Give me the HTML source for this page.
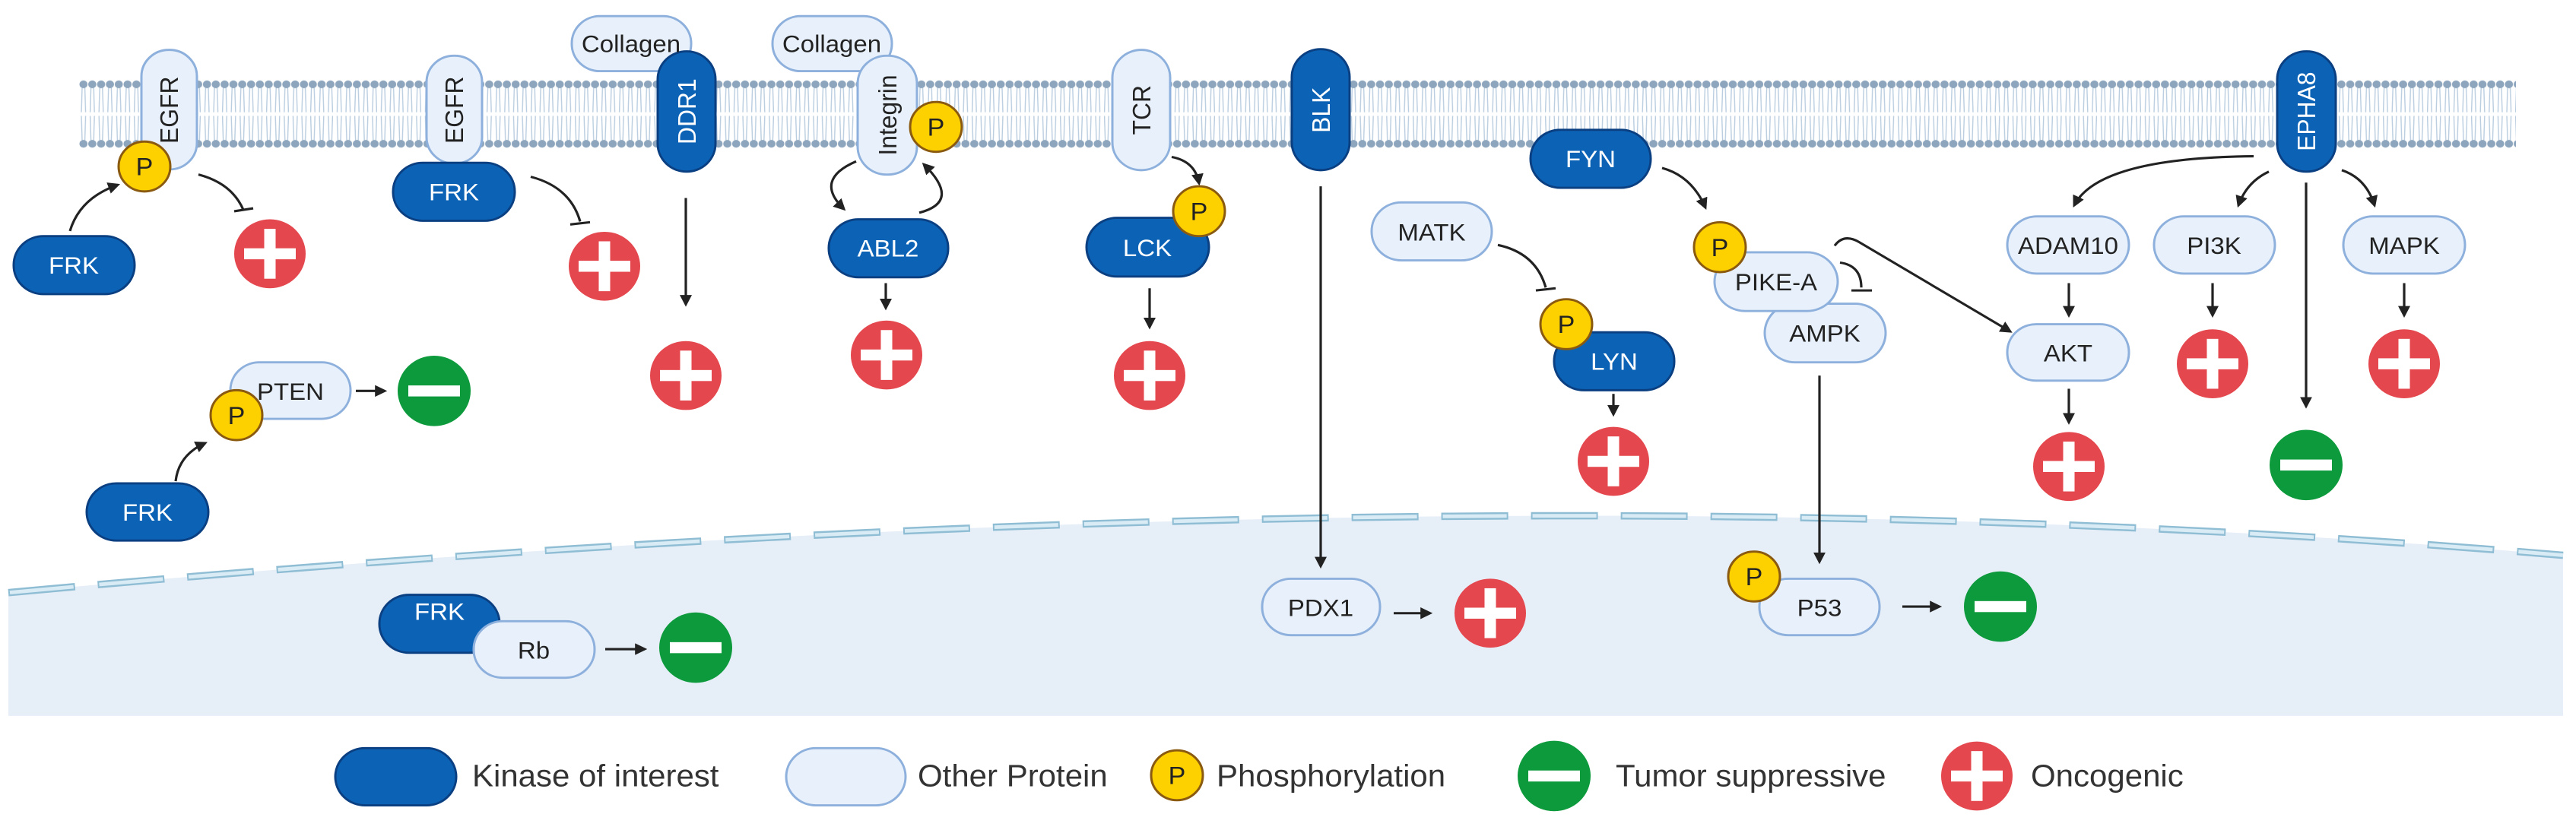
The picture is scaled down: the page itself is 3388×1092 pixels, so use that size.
<!DOCTYPE html>
<html><head><meta charset="utf-8"><style>
html,body{margin:0;padding:0;background:#fff;}
svg{display:block;}
text{font-family:"Liberation Sans",sans-serif;}
</style></head><body>
<svg width="3388" height="1092" viewBox="0 0 3388 1092" xmlns="http://www.w3.org/2000/svg">
<defs>
<marker id="ah" viewBox="0 0 10 10" refX="8" refY="5" markerWidth="5" markerHeight="5" orient="auto-start-reverse" markerUnits="strokeWidth">
<path d="M0,0 L10,5 L0,10 z" fill="#222"/></marker>
<pattern id="mem" x="104" y="105" width="11.6" height="101" patternUnits="userSpaceOnUse">
<line x1="4" y1="15" x2="3" y2="48" stroke="#b9cde0" stroke-width="1.4"/>
<line x1="7.6" y1="15" x2="8.6" y2="48" stroke="#b9cde0" stroke-width="1.4"/>
<line x1="3" y1="53" x2="4" y2="86" stroke="#b9cde0" stroke-width="1.4"/>
<line x1="8.6" y1="53" x2="7.6" y2="86" stroke="#b9cde0" stroke-width="1.4"/>
<circle cx="5.8" cy="10" r="5.3" fill="#8ea6bd"/>
<circle cx="5.8" cy="91" r="5.3" fill="#8ea6bd"/>
</pattern>
<g id="plus"><circle r="47" fill="#e4484e"/><rect x="-34" y="-7.5" width="68" height="15" fill="#fff"/><rect x="-7.5" y="-34" width="15" height="68" fill="#fff"/></g>
<g id="minus"><circle r="48" fill="#0d9a3c"/><rect x="-34" y="-7.5" width="68" height="15" fill="#fff"/></g>
<g id="P"><circle r="34" fill="#fdd000" stroke="#8a5a10" stroke-width="3"/><text y="12" text-anchor="middle" font-size="34" fill="#222">P</text></g>
</defs>
<g transform="scale(1 0.965)">
<!-- membrane -->
<rect x="104" y="105" width="3205" height="101" fill="url(#mem)"/>

<!-- nucleus -->
<path d="M11 808 Q1900 628 3371 757 L3371 976 L11 976 Z" fill="#e6eef8"/>
<path d="M11 808 Q1900 628 3371 757" fill="none" stroke="#8fbdd4" stroke-width="10" stroke-dasharray="88 30"/>
<path d="M11 808 Q1900 628 3371 757" fill="none" stroke="#d9ecf6" stroke-width="5" stroke-dasharray="84 34" stroke-dashoffset="-2"/>

<g fill="none" stroke="#222" stroke-width="3.2">
<path d="M92 315 Q105 270 155 252" marker-end="url(#ah)"/>
<path d="M261 238 Q305 250 320 286"/><line x1="308" y1="288" x2="333" y2="284"/>
<path d="M698 241 Q750 255 763 302"/><line x1="750" y1="306" x2="776" y2="303"/>
<line x1="902" y1="270" x2="902" y2="415" marker-end="url(#ah)"/>
<path d="M231 656 Q235 620 270 604" marker-end="url(#ah)"/>
<line x1="468" y1="533" x2="506" y2="533" marker-end="url(#ah)"/>
<line x1="796" y1="885" x2="848" y2="885" marker-end="url(#ah)"/>
<path d="M1126 220 Q1070 245 1110 285" marker-end="url(#ah)"/>
<path d="M1209 290 Q1265 275 1215 224" marker-end="url(#ah)"/>
<line x1="1165" y1="386" x2="1165" y2="420" marker-end="url(#ah)"/>
<path d="M1541 214 Q1572 220 1577 250" marker-end="url(#ah)"/>
<line x1="1512" y1="393" x2="1512" y2="446" marker-end="url(#ah)"/>
<line x1="1737" y1="254" x2="1737" y2="772" marker-end="url(#ah)"/>
<line x1="1833" y1="836" x2="1881" y2="836" marker-end="url(#ah)"/>
<path d="M2186 229 Q2225 240 2243 283" marker-end="url(#ah)"/>
<path d="M1970 334 Q2020 345 2033 392"/><line x1="2020" y1="396" x2="2046" y2="393"/>
<line x1="2122" y1="537" x2="2122" y2="565" marker-end="url(#ah)"/>
<path d="M2413 335 Q2425 318 2445 330 L2644 452" marker-end="url(#ah)"/>
<path d="M2420 358 Q2448 362 2448 392"/><line x1="2435" y1="396" x2="2462" y2="396"/>
<line x1="2393" y1="512" x2="2393" y2="766" marker-end="url(#ah)"/>
<line x1="2502" y1="827" x2="2551" y2="827" marker-end="url(#ah)"/>
<path d="M2964 213 Q2760 215 2728 280" marker-end="url(#ah)"/>
<path d="M2984 234 Q2955 248 2944 280" marker-end="url(#ah)"/>
<path d="M3080 232 Q3112 243 3123 280" marker-end="url(#ah)"/>
<line x1="3033" y1="249" x2="3033" y2="554" marker-end="url(#ah)"/>
<line x1="2721" y1="386" x2="2721" y2="430" marker-end="url(#ah)"/>
<line x1="2721" y1="530" x2="2721" y2="576" marker-end="url(#ah)"/>
<line x1="2910" y1="386" x2="2910" y2="430" marker-end="url(#ah)"/>
<line x1="3162" y1="386" x2="3162" y2="430" marker-end="url(#ah)"/>
</g>

<g fill="#e8f1fb" stroke="#8eb0dc" stroke-width="3">
<rect x="186" y="68" width="73" height="163" rx="36"/>
<rect x="561" y="76" width="73" height="147" rx="36"/>
<rect x="752" y="22" width="157" height="75" rx="37"/>
<rect x="1016" y="22" width="157" height="75" rx="37"/>
<rect x="1128" y="76" width="78" height="162" rx="38"/>
<rect x="1463" y="68" width="76" height="164" rx="38"/>
<rect x="303" y="494" width="158" height="77" rx="38"/>
<rect x="1660" y="789" width="155" height="77" rx="38"/>
<rect x="1804" y="276" width="158" height="79" rx="39"/>
<rect x="2321" y="414" width="159" height="80" rx="40"/>
<rect x="2314" y="789" width="158" height="77" rx="38"/>
<rect x="2640" y="295" width="160" height="78" rx="39"/>
<rect x="2640" y="442" width="160" height="77" rx="38"/>
<rect x="2833" y="295" width="159" height="78" rx="39"/>
<rect x="3082" y="295" width="160" height="78" rx="39"/>
<rect x="1034" y="1020" width="157" height="78" rx="39"/>
</g>
<g fill="#0c63b6" stroke="#0a3f82" stroke-width="3">
<rect x="18" y="322" width="159" height="79" rx="39"/>
<rect x="517" y="222" width="160" height="79" rx="39"/>
<rect x="865" y="70" width="76" height="164" rx="38"/>
<rect x="1090" y="299" width="157" height="79" rx="39"/>
<rect x="1429" y="297" width="161" height="80" rx="40"/>
<rect x="1699" y="67" width="76" height="165" rx="38"/>
<rect x="2013" y="177" width="158" height="79" rx="39"/>
<rect x="2044" y="453" width="158" height="79" rx="39"/>
<rect x="2995" y="70" width="77" height="164" rx="38"/>
<rect x="114" y="659" width="160" height="78" rx="39"/>
<rect x="499" y="811" width="158" height="79" rx="39"/>
<rect x="441" y="1020" width="159" height="78" rx="39"/>
</g>
<rect x="623" y="847" width="159" height="77" rx="38" fill="#e8f1fb" stroke="#8eb0dc" stroke-width="3"/>
<rect x="2255" y="344" width="162" height="80" rx="40" fill="#e8f1fb" stroke="#8eb0dc" stroke-width="3"/>

<g font-size="33" fill="#222" text-anchor="middle">
<text x="830" y="71">Collagen</text>
<text x="1094" y="71">Collagen</text>
<text x="382" y="545">PTEN</text>
<text x="702" y="898">Rb</text>
<text x="1737" y="840">PDX1</text>
<text x="1883" y="328">MATK</text>
<text x="2400" y="466">AMPK</text>
<text x="2336" y="396">PIKE-A</text>
<text x="2393" y="840">P53</text>
<text x="2720" y="346">ADAM10</text>
<text x="2720" y="493">AKT</text>
<text x="2912" y="346">PI3K</text>
<text x="3162" y="346">MAPK</text>
<text transform="translate(222 150) rotate(-90)" y="12">EGFR</text>
<text transform="translate(597 150) rotate(-90)" y="12">EGFR</text>
<text transform="translate(1167 157) rotate(-90)" y="12">Integrin</text>
<text transform="translate(1501 150) rotate(-90)" y="12">TCR</text>
</g>
<g font-size="33" fill="#fff" text-anchor="middle">
<text x="97" y="373">FRK</text>
<text x="597" y="273">FRK</text>
<text x="1168" y="350">ABL2</text>
<text x="1509" y="349">LCK</text>
<text x="2092" y="228">FYN</text>
<text x="2123" y="504">LYN</text>
<text x="194" y="710">FRK</text>
<text x="578" y="845">FRK</text>
<text transform="translate(903 152) rotate(-90)" y="12">DDR1</text>
<text transform="translate(1737 150) rotate(-90)" y="12">BLK</text>
<text transform="translate(3033 152) rotate(-90)" y="12">EPHA8</text>
</g>

<use href="#P" x="190" y="227"/>
<use href="#P" x="311" y="566"/>
<use href="#P" x="1231" y="173"/>
<use href="#P" x="1577" y="288"/>
<use href="#P" x="2060" y="442"/>
<use href="#P" x="2262" y="337"/>
<use href="#P" x="2307" y="786"/>
<use href="#P" x="1548" y="1057"/>

<use href="#plus" x="355" y="346"/>
<use href="#plus" x="795" y="363"/>
<use href="#plus" x="902" y="512"/>
<use href="#plus" x="1166" y="484"/>
<use href="#plus" x="1512" y="512"/>
<use href="#plus" x="1960" y="836"/>
<use href="#plus" x="2122" y="629"/>
<use href="#plus" x="2721" y="636"/>
<use href="#plus" x="2910" y="496"/>
<use href="#plus" x="3162" y="496"/>
<use href="#plus" x="2600" y="1058"/>
<use href="#minus" x="571" y="533"/>
<use href="#minus" x="915" y="883"/>
<use href="#minus" x="2631" y="827"/>
<use href="#minus" x="3033" y="634"/>
<use href="#minus" x="2044" y="1058"/>

<g font-size="42" fill="#333">
<text x="621" y="1072">Kinase of interest</text>
<text x="1207" y="1072">Other Protein</text>
<text x="1600" y="1072">Phosphorylation</text>
<text x="2125" y="1072">Tumor suppressive</text>
<text x="2671" y="1072">Oncogenic</text>
</g>
</g>
</svg>
</body></html>
